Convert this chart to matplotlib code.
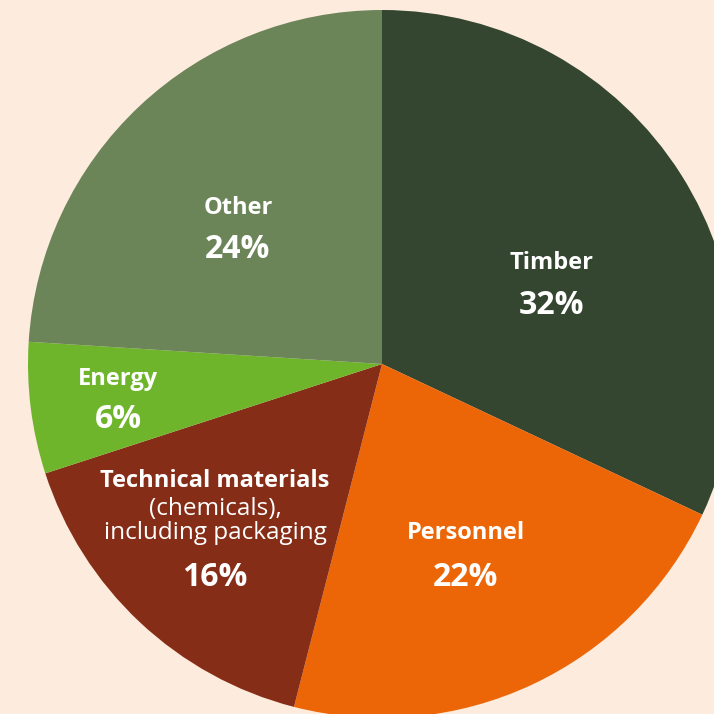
import matplotlib.pyplot as plt

# data
categories = ['Timber', 'Personnel', 'Technical materials', 'Energy', 'Other']
shares = [32, 22, 16, 6, 24]
sublabels = ['', '', '(chemicals),\nincluding packaging', '', '']
colors = ['#344530', '#EC6608', '#862D17', '#6FB52C', '#6B8559']

plt.rcParams['font.family'] = ['Open Sans', 'DejaVu Sans']

W = 714
fig = plt.figure(figsize=(7.14, 7.14), dpi=100, facecolor='#FDEBDD')
ax = fig.add_axes([0, 0, 1, 1])

cx, cy, r = 382, W - 364, 354
ax.pie(shares, colors=colors, startangle=90, counterclock=False,
       center=(cx, cy), radius=r, frame=True,
       wedgeprops=dict(linewidth=0))
ax.set_xlim(0, W)
ax.set_ylim(0, W)
ax.set_aspect('equal')
ax.axis('off')

# label positions (image px): name line, percent line
name_pos = [(551, 263), (466, 533), (215, 481), (118, 379), (238, 208)]
pct_pos = [(551, 305), (466, 578), (215, 578), (118, 419), (238, 250)]

for i, cat in enumerate(categories):
    nx, ny = name_pos[i]
    ax.text(nx, W - ny, cat, color='white', fontsize=17, fontweight='bold',
            ha='center', va='center')
    if sublabels[i]:
        ax.text(nx, W - ny - 16, sublabels[i], color='white', fontsize=17.5,
                ha='center', va='top', linespacing=1.02)
    px, py = pct_pos[i]
    ax.text(px, W - py, f'{shares[i]}%', color='white', fontsize=23,
            fontweight='bold', ha='center', va='center')

fig.savefig('out.png', dpi=100, facecolor=fig.get_facecolor())
